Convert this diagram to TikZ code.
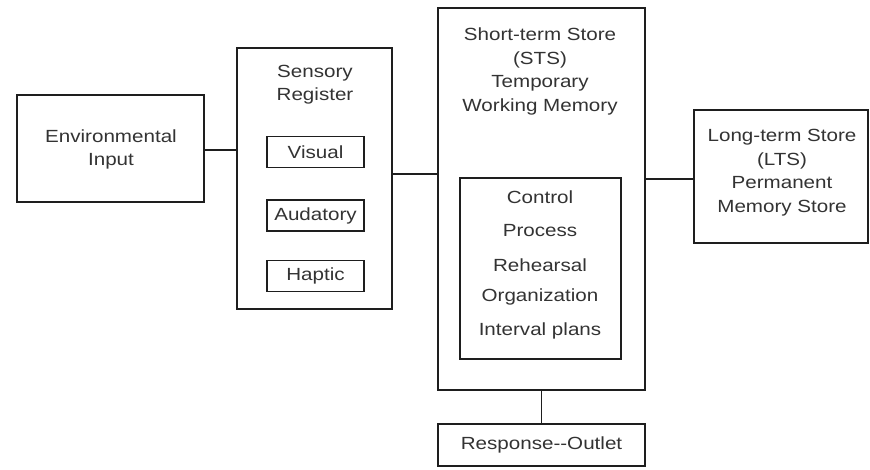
\documentclass[tikz,border=0pt]{standalone}
\usepackage{fontspec}
\setmainfont{Liberation Sans}[FakeStretch=1.17]
\usetikzlibrary{positioning}
\definecolor{txt}{HTML}{333333}
\definecolor{ln}{HTML}{1E1E1E}
\begin{document}
\begin{tikzpicture}[x=1pt,y=-1pt,
  box/.style={draw=ln,line width=1.6pt,rectangle,inner sep=0pt,fill=white},
  lbl/.style={text=txt,align=center,font=\fontsize{17.6}{23.5}\selectfont,inner sep=0pt},
  conn/.style={draw=ln,line width=1.6pt}]
\useasboundingbox[fill=white] (0,0) rectangle (870,470);
% boxes
\node[box,minimum width=187pt,minimum height=107pt] (env) at (110.5,148.5) {};
\node[box,minimum width=155pt,minimum height=261pt] (sens) at (314.5,178.5) {};
\node[box,minimum width=97pt,minimum height=31pt] (vis) at (315.5,152) {};
\node[box,minimum width=97pt,minimum height=31pt] (aud) at (315.5,215.5) {};
\node[box,minimum width=97pt,minimum height=31pt] (hap) at (315.5,276) {};
\node[box,minimum width=207pt,minimum height=382pt] (sts) at (541.5,199) {};
\node[box,minimum width=161pt,minimum height=181pt] (inner) at (540.5,268.5) {};
\node[box,minimum width=174pt,minimum height=133pt] (lts) at (781,176.5) {};
\node[box,minimum width=207pt,minimum height=42pt] (resp) at (541.5,445) {};
% texts
\node[lbl] (envt) at (111,149.5) {Environmental\\Input};
\node[lbl] (senst) at (315,84.5) {Sensory\\Register};
\node[lbl] (vist) at (vis) {Visual};
\node[lbl] (audt) at (aud) {Audatory};
\node[lbl] (hapt) at (hap) {Haptic};
\node[lbl] (stst) at (540,71.5) {Short-term Store\\(STS)\\Temporary\\Working Memory};
\node[lbl] (c1) at (540,197) {Control};
\node[lbl] (c2) at (540,231) {Process};
\node[lbl] (c3) at (540,265) {Rehearsal};
\node[lbl] (c4) at (540,297) {Organization};
\node[lbl] (c5) at (540,331) {Interval plans};
\node[lbl] (ltst) at (782,172.5) {Long-term Store\\(LTS)\\Permanent\\Memory Store};
\node[lbl] (respt) at (resp) {Response-{}-Outlet};
% connectors
\draw[conn] (env.east |- 0,150) -- (sens.west |- 0,150);
\draw[conn] (sens.east |- 0,174) -- (sts.west |- 0,174);
\draw[conn] (sts.east |- 0,179) -- (lts.west |- 0,179);
\draw[conn] (sts.south) -- (resp.north);
\end{tikzpicture}
\end{document}
